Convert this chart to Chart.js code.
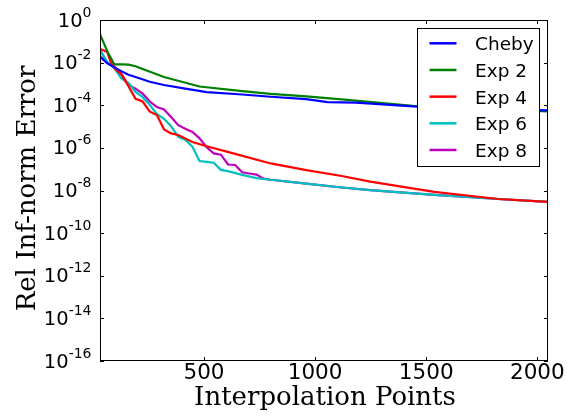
<!DOCTYPE html>
<html><head><meta charset="utf-8">
<script src="https://cdn.jsdelivr.net/npm/chart.js@4/dist/chart.umd.min.js"></script>
<style>html,body{margin:0;padding:0;background:#fff;}canvas{display:block;}</style>
</head><body>
<canvas id="c" width="571" height="417"></canvas>
<script>
// ---- data ----
const chebyX = [32, 64, 96, 128, 160, 192, 256, 320, 416, 512, 672, 800, 960, 1056, 1184, 1440, 1760, 2048];
const chebyY = [1.9e-2, 9.5e-3, 6.0e-3, 4.0e-3, 2.7e-3, 2.1e-3, 1.26e-3, 8.9e-4, 6.0e-4, 4.1e-4, 3.2e-4, 2.5e-4, 1.95e-4, 1.4e-4, 1.32e-4, 8.9e-5, 6.6e-5, 5.8e-5];

const exp2X = [32, 64, 96, 128, 160, 192, 224, 320, 480, 672, 800, 960, 1120, 1440, 1760, 2048];
const exp2Y = [0.214, 3.55e-2, 8.3e-3, 8.3e-3, 8.1e-3, 6.8e-3, 5.0e-3, 2.1e-3, 7.6e-4, 4.6e-4, 3.4e-4, 2.6e-4, 1.9e-4, 9.5e-5, 6.6e-5, 5.2e-5];

const exp4X = [32, 64, 80, 96, 128, 160, 192, 224, 256, 288, 320, 352, 384, 448, 512, 640, 800, 960, 1120, 1248, 1536, 1824, 2048];
const exp4Y = [4.4e-2, 3.2e-2, 1.1e-2, 5.6e-3, 2.8e-3, 7.9e-4, 2.0e-4, 1.5e-4, 5.0e-5, 3.5e-5, 7.4e-6, 4.8e-6, 4.0e-6, 1.9e-6, 1.2e-6, 5.2e-7, 1.86e-7, 9.1e-8, 4.8e-8, 2.6e-8, 8.7e-9, 4.0e-9, 2.95e-9];

const exp6X = [32, 64, 96, 128, 160, 192, 224, 256, 288, 320, 352, 384, 416, 448, 480, 512, 544, 576, 608, 672, 736, 800, 960, 1120, 1248, 1536, 1824, 2048];
const exp6Y = [3.9e-2, 1.07e-2, 5.6e-3, 1.8e-3, 1.12e-3, 4.2e-4, 2.4e-4, 1.05e-4, 3.8e-5, 2.3e-5, 1.05e-5, 3.3e-6, 2.4e-6, 1.12e-6, 2.4e-7, 2.2e-7, 2.0e-7, 9.3e-8, 8.1e-8, 5.4e-8, 3.8e-8, 3.2e-8, 2.1e-8, 1.38e-8, 1.05e-8, 6.2e-9, 4.0e-9, 2.95e-9];

const exp8X = [32, 64, 96, 128, 160, 192, 224, 256, 288, 320, 352, 384, 416, 448, 480, 512, 544, 576, 608, 640, 672, 704, 736, 768, 800, 960, 1120, 1248, 1536, 1824, 2048];
const exp8Y = [3.9e-2, 1.0e-2, 6.6e-3, 3.0e-3, 8.9e-4, 6.0e-4, 3.5e-4, 1.5e-4, 8.3e-5, 6.3e-5, 2.8e-5, 1.17e-5, 7.9e-6, 5.6e-6, 2.8e-6, 1.07e-6, 5.5e-7, 4.8e-7, 1.66e-7, 1.58e-7, 7.2e-8, 6.3e-8, 5.6e-8, 3.6e-8, 3.2e-8, 2.1e-8, 1.38e-8, 1.05e-8, 6.2e-9, 4.0e-9, 2.95e-9];

const seriesNames = ['Cheby', 'Exp 2', 'Exp 4', 'Exp 6', 'Exp 8'];
const xTickValues = [500, 1000, 1500, 2000];
const yTickExponents = [0, -2, -4, -6, -8, -10, -12, -14, -16];
const xTitle = 'Interpolation Points';
const yTitle = 'Rel Inf-norm Error';

// ---- styles ----
const seriesColors = ['#0000ff', '#008000', '#ff0000', '#00bfbf', '#bf00bf'];
const seriesX = [chebyX, exp2X, exp4X, exp6X, exp8X];
const seriesY = [chebyY, exp2Y, exp4Y, exp6Y, exp8Y];

const datasets = seriesNames.map((name, k) => ({
  label: name,
  data: seriesX[k].map((x, i) => ({x: x, y: seriesY[k][i]})),
  borderColor: seriesColors[k],
  backgroundColor: seriesColors[k],
  borderWidth: 2.2,
  pointRadius: 0,
  tension: 0,
  fill: false
}));

const SANS = '"DejaVu Sans", sans-serif';
const SERIF = '"DejaVu Serif", serif';

const decorPlugin = {
  id: 'decor',
  afterDraw(chart) {
    const ctx = chart.ctx;
    const a = chart.chartArea;
    const xs = chart.scales.x, ys = chart.scales.y;
    ctx.save();
    // frame
    ctx.strokeStyle = '#000';
    ctx.lineWidth = 1;
    ctx.strokeRect(a.left + 0.5, a.top + 0.5, a.right - a.left - 1, a.bottom - a.top - 1);
    // ticks (inward, all four sides)
    ctx.beginPath();
    xTickValues.forEach(v => {
      const px = Math.round(xs.getPixelForValue(v)) + 0.5;
      ctx.moveTo(px, a.bottom); ctx.lineTo(px, a.bottom - 4);
      ctx.moveTo(px, a.top); ctx.lineTo(px, a.top + 4);
    });
    yTickExponents.forEach(e => {
      const py = Math.round(ys.getPixelForValue(Math.pow(10, e))) + 0.5;
      ctx.moveTo(a.left, py); ctx.lineTo(a.left + 4, py);
      ctx.moveTo(a.right, py); ctx.lineTo(a.right - 4, py);
    });
    ctx.stroke();
    // x tick labels
    ctx.fillStyle = '#000';
    ctx.font = '21.5px ' + SANS;
    ctx.textAlign = 'center';
    ctx.textBaseline = 'alphabetic';
    xTickValues.forEach(v => {
      ctx.fillText(String(v), xs.getPixelForValue(v), 378.5);
    });
    // y tick labels with superscript exponent
    const rightEdge = 91.5;
    yTickExponents.forEach(e => {
      const py = ys.getPixelForValue(Math.pow(10, e));
      const sup = String(e);
      ctx.font = '14px ' + SANS;
      const supW = ctx.measureText(sup).width;
      ctx.textAlign = 'left';
      ctx.fillText(sup, rightEdge - supW, py - 3.5);
      ctx.font = '19.5px ' + SANS;
      const baseW = ctx.measureText('10').width;
      ctx.fillText('10', rightEdge - supW - baseW, py + 6.5);
    });
    // axis titles
    ctx.font = '26px ' + SERIF;
    ctx.textAlign = 'center';
    ctx.fillText(xTitle, (a.left + a.right) / 2 + 1, 404.5);
    ctx.save();
    ctx.translate(35, 188.5);
    ctx.rotate(-Math.PI / 2);
    ctx.fillText(yTitle, 0, 0);
    ctx.restore();
    // legend
    const lx = 417.5, ly = 28.5, lw = 122, lh = 138;
    ctx.fillStyle = '#fff';
    ctx.fillRect(lx, ly, lw, lh);
    ctx.strokeStyle = '#000';
    ctx.lineWidth = 1;
    ctx.strokeRect(lx, ly, lw, lh);
    ctx.font = '18.5px ' + SANS;
    ctx.textAlign = 'left';
    chart.data.datasets.forEach((ds, i) => {
      const yy = 43.3 + i * 26.67;
      ctx.strokeStyle = ds.borderColor;
      ctx.lineWidth = 2.5;
      ctx.beginPath();
      ctx.moveTo(429.5, yy); ctx.lineTo(456.5, yy);
      ctx.stroke();
      ctx.fillStyle = '#000';
      ctx.fillText(ds.label, 475, yy + 7);
    });
    ctx.restore();
  }
};

new Chart(document.getElementById('c'), {
  type: 'line',
  data: { datasets: datasets },
  options: {
    responsive: false,
    animation: false,
    devicePixelRatio: 1,
    layout: { padding: { left: 100, right: 23, top: 20, bottom: 56 } },
    plugins: { legend: { display: false }, tooltip: { enabled: false } },
    scales: {
      x: { type: 'linear', min: 32, max: 2048, display: false },
      y: { type: 'logarithmic', min: 1e-16, max: 1, display: false }
    }
  },
  plugins: [decorPlugin]
});
</script>
</body></html>
